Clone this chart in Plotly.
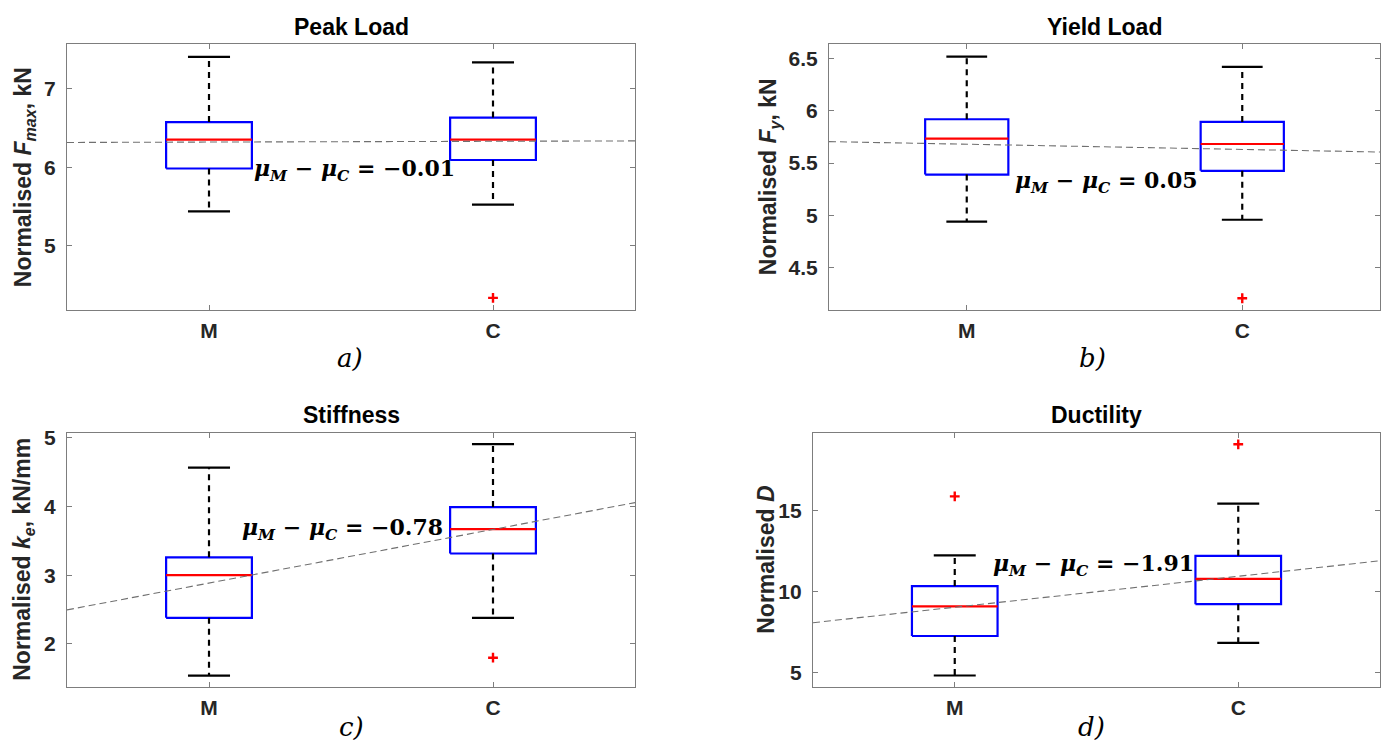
import plotly.graph_objects as go

# ---- data -------------------------------------------------------------
categories = ["M", "C"]
cat_pos = [1, 2]

# Peak load (normalised F_max, kN)
peak_lo = [5.434, 5.521]
peak_q1 = [5.983, 6.092]
peak_med = [6.353, 6.353]
peak_q3 = [6.576, 6.634]
peak_hi = [7.41, 7.34]
peak_out = [[], [4.33]]
peak_mean_M = 6.321
peak_diff = -0.01

# Yield load (normalised F_y, kN)
yield_lo = [4.937, 4.956]
yield_q1 = [5.39, 5.426]
yield_med = [5.734, 5.683]
yield_q3 = [5.921, 5.895]
yield_hi = [6.522, 6.424]
yield_out = [[], [4.202]]
yield_mean_M = 5.681
yield_diff = 0.05

# Stiffness (normalised k_e, kN/mm)
stiff_lo = [1.54, 2.38]
stiff_q1 = [2.38, 3.315]
stiff_med = [3.0, 3.67]
stiff_q3 = [3.26, 3.99]
stiff_hi = [4.563, 4.904]
stiff_out = [[], [1.80]]
stiff_mean_M = 2.885
stiff_diff = -0.78

# Ductility (normalised D)
duct_lo = [4.82, 6.83]
duct_q1 = [7.26, 9.22]
duct_med = [9.09, 10.79]
duct_q3 = [10.34, 12.21]
duct_hi = [12.23, 15.43]
duct_out = [[15.88], [19.09]]
duct_mean_M = 9.035
duct_diff = -1.91

peak_ticks = [5, 6, 7]
yield_ticks = [4.5, 5, 5.5, 6, 6.5]
stiff_ticks = [2, 3, 4, 5]
duct_ticks = [5, 10, 15]

# ---- styling ------------------------------------------------------------
W, H = 1387, 744
SANS = "Liberation Sans, Arial, sans-serif"
SERIF = "DejaVu Serif, serif"
AXIS_GREY = "#7d7d7d"
BOX_HALF = 0.151
CAP_HALF = 0.074

panels = [
    dict(title="Peak Load", letter="a)",
         ylabel="Normalised <i>F</i><sub><i>max</i></sub>, kN",
         lo=peak_lo, q1=peak_q1, med=peak_med, q3=peak_q3, hi=peak_hi, out=peak_out,
         mean_M=peak_mean_M, diff=peak_diff, ticks=peak_ticks, yrange=[4.173, 7.57],
         px=(67, 635), py=(37.7, 306), ylab_x=24, letter_x=350, letter_y=354, title_y=20,
         note_x=1.151, note_y=5.958),
    dict(title="Yield Load", letter="b)",
         ylabel="Normalised <i>F</i><sub><i>y</i></sub>, kN",
         lo=yield_lo, q1=yield_q1, med=yield_med, q3=yield_q3, hi=yield_hi, out=yield_out,
         mean_M=yield_mean_M, diff=yield_diff, ticks=yield_ticks, yrange=[4.088, 6.64],
         px=(829, 1380), py=(37.7, 306), ylab_x=769, letter_x=1092, letter_y=354, title_y=20,
         note_x=1.169, note_y=5.315),
    dict(title="Stiffness", letter="c)",
         ylabel="Normalised <i>k</i><sub><i>e</i></sub>, kN/mm",
         lo=stiff_lo, q1=stiff_q1, med=stiff_med, q3=stiff_q3, hi=stiff_hi, out=stiff_out,
         mean_M=stiff_mean_M, diff=stiff_diff, ticks=stiff_ticks, yrange=[1.376, 5.072],
         px=(67, 635), py=(429.7, 686.3), ylab_x=24, letter_x=351, letter_y=727, title_y=412,
         note_x=1.109, note_y=3.672),
    dict(title="Ductility", letter="d)",
         ylabel="Normalised <i>D</i>",
         lo=duct_lo, q1=duct_q1, med=duct_med, q3=duct_q3, hi=duct_hi, out=duct_out,
         mean_M=duct_mean_M, diff=duct_diff, ticks=duct_ticks, yrange=[4.12, 19.81],
         px=(813, 1380), py=(429.7, 686.3), ylab_x=766, letter_x=1091, letter_y=727, title_y=412,
         note_x=1.129, note_y=11.62),
]


def fmt_tick(v):
    return f"{v:g}"


fig = go.Figure()
annotations = []
layout = {}

for i, p in enumerate(panels):
    sfx = "" if i == 0 else str(i + 1)
    xa, ya = "x" + sfx, "y" + sfx

    for j, pos in enumerate(cat_pos):
        # box outline (Q1..Q3)
        fig.add_trace(go.Scatter(
            x=[pos - BOX_HALF, pos + BOX_HALF, pos + BOX_HALF, pos - BOX_HALF, pos - BOX_HALF],
            y=[p["q1"][j], p["q1"][j], p["q3"][j], p["q3"][j], p["q1"][j]],
            mode="lines", line=dict(color="#0000ff", width=2.2),
            xaxis=xa, yaxis=ya, showlegend=False, hoverinfo="skip"))
        # dashed whiskers
        fig.add_trace(go.Scatter(
            x=[pos, pos, None, pos, pos],
            y=[p["q3"][j], p["hi"][j], None, p["q1"][j], p["lo"][j]],
            mode="lines", line=dict(color="black", width=2.2, dash="6px,5px"),
            xaxis=xa, yaxis=ya, showlegend=False, hoverinfo="skip"))
        # whisker caps
        fig.add_trace(go.Scatter(
            x=[pos - CAP_HALF, pos + CAP_HALF, None, pos - CAP_HALF, pos + CAP_HALF],
            y=[p["hi"][j], p["hi"][j], None, p["lo"][j], p["lo"][j]],
            mode="lines", line=dict(color="black", width=2.2),
            xaxis=xa, yaxis=ya, showlegend=False, hoverinfo="skip"))
        # median
        fig.add_trace(go.Scatter(
            x=[pos - BOX_HALF, pos + BOX_HALF],
            y=[p["med"][j], p["med"][j]],
            mode="lines", line=dict(color="#ff0000", width=2.2),
            xaxis=xa, yaxis=ya, showlegend=False, hoverinfo="skip"))
        # outliers
        if p["out"][j]:
            fig.add_trace(go.Scatter(
                x=[pos] * len(p["out"][j]), y=p["out"][j], mode="markers",
                marker=dict(symbol="cross-thin", size=7, color="#ff0000",
                            line=dict(color="#ff0000", width=2.4)),
                xaxis=xa, yaxis=ya, showlegend=False, hoverinfo="skip"))

    # line through the two group means, extended across the axes
    mean_C = p["mean_M"] - p["diff"]
    xs = [0.5, 2.5]
    ys = [p["mean_M"] + (mean_C - p["mean_M"]) * (x - 1) for x in xs]
    fig.add_trace(go.Scatter(
        x=xs, y=ys, mode="lines",
        line=dict(color="#707070", width=1.1, dash="7px,4px"),
        xaxis=xa, yaxis=ya, showlegend=False, hoverinfo="skip"))

    x0, x1 = p["px"]
    y0, y1 = p["py"]
    axis_common = dict(
        showline=True, linecolor=AXIS_GREY, linewidth=1.2, mirror="ticks",
        ticks="inside", ticklen=5, tickcolor=AXIS_GREY, tickwidth=1.2,
        showgrid=False, zeroline=False, fixedrange=True,
        tickfont=dict(family=SANS, size=21, color="#262626"),
    )
    layout["xaxis" + sfx] = dict(
        axis_common, domain=[x0 / W, x1 / W], range=[0.5, 2.5], anchor=ya,
        tickvals=cat_pos, ticktext=[f"<b>{c}</b>" for c in categories],
        ticklabelstandoff=2)
    layout["yaxis" + sfx] = dict(
        axis_common, domain=[1 - y1 / H, 1 - y0 / H], range=p["yrange"], anchor=xa,
        tickvals=p["ticks"], ticktext=[f"<b>{fmt_tick(v)}</b>" for v in p["ticks"]],
        ticklabelstandoff=6)

    # panel title
    annotations.append(dict(
        text=f"<b>{p['title']}</b>", x=(x0 + x1) / 2 / W, y=1 - p["title_y"] / H,
        xref="paper", yref="paper", xanchor="center", yanchor="middle", showarrow=False,
        font=dict(family=SANS, size=23, color="black")))
    # y-axis label
    annotations.append(dict(
        text=f"<b>{p['ylabel']}</b>", x=p["ylab_x"] / W, y=1 - (y0 + y1) / 2 / H,
        xref="paper", yref="paper", xanchor="center", yanchor="middle", showarrow=False,
        textangle=-90, font=dict(family=SANS, size=23, color="#262626")))
    # sub-figure letter
    annotations.append(dict(
        text=f"<i>{p['letter']}</i>", x=p["letter_x"] / W, y=1 - p["letter_y"] / H,
        xref="paper", yref="paper", xanchor="center", yanchor="middle", showarrow=False,
        font=dict(family=SERIF, size=26, color="black")))
    # difference of means
    sign = "\u2212" if p["diff"] < 0 else ""
    note = (f"<b><i>\u03bc</i><sub><i>M</i></sub> \u2212 <i>\u03bc</i><sub><i>C</i></sub>"
            f" = {sign}{abs(p['diff']):.2f}</b>")
    annotations.append(dict(
        text=note, x=p["note_x"], y=p["note_y"], xref=xa, yref=ya,
        xanchor="left", yanchor="middle", showarrow=False,
        font=dict(family=SERIF, size=22, color="black")))

fig.update_layout(
    width=W, height=H, margin=dict(l=0, r=0, t=0, b=0),
    paper_bgcolor="white", plot_bgcolor="white",
    annotations=annotations, showlegend=False, **layout)

fig.write_html("out.html")
